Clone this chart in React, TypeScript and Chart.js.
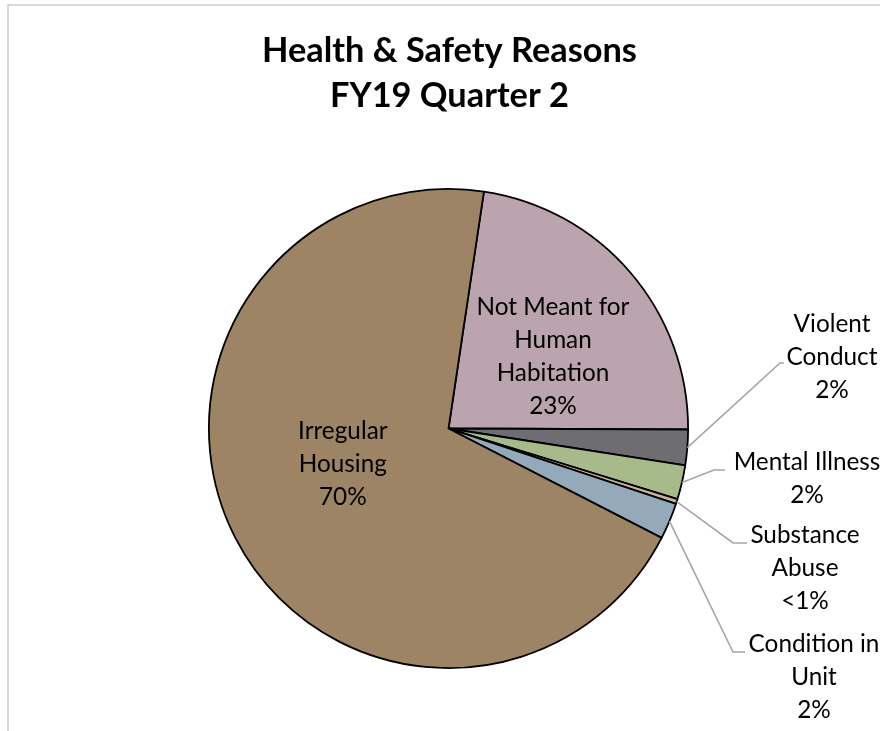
import React, { useEffect, useRef } from 'react';
import { Chart, registerables } from 'chart.js';

Chart.register(...registerables);

// ---- data ----
const titleLines = ['Health & Safety Reasons', 'FY19 Quarter 2'];
const categories = [
  'Not Meant for Human Habitation',
  'Violent Conduct',
  'Mental Illness',
  'Substance Abuse',
  'Condition in Unit',
  'Irregular Housing',
];
const categoryLabelLines = [
  ['Not Meant for', 'Human', 'Habitation'],
  ['Violent', 'Conduct'],
  ['Mental Illness'],
  ['Substance', 'Abuse'],
  ['Condition in', 'Unit'],
  ['Irregular', 'Housing'],
];
const shares = [22.7, 2.4, 2.3, 0.33, 2.45, 69.8];
const sliceColors = ['#BBA4AD', '#6E6D72', '#A6BA8A', '#C8B29A', '#94AABB', '#9D8465'];
const startAngle = 8.5;

// ---- layout (relative to the pie centre) ----
const FONT = 'Lato, "Open Sans", sans-serif';
const LINE_GAP = 33;
const labelLayout: any[] = [
  { dx: 104.5, dy: -113.5 },
  { dx: 383.5, dy: -96.5, elbow: [331.5, -65.5], end: [335.5, -65.5] },
  { dx: 358.5, dy: 41.5, elbow: [265.5, 41.5], end: [276.5, 41.5] },
  { dx: 356.5, dy: 114.5, elbow: [284.5, 114.5], end: [298.5, 114.5] },
  { dx: 365.5, dy: 223.5, elbow: [284.5, 223.5], end: [296.5, 223.5] },
  { dx: -105.7, dy: 10.5 },
];

function pctText(v: number, total: number) {
  const p = (v / total) * 100;
  return p < 1 ? '<1%' : Math.round(p) + '%';
}

function fitFontSize(ctx: CanvasRenderingContext2D, text: string, weight: string, target: number) {
  ctx.font = `${weight} 100px ${FONT}`;
  return (100 * target) / ctx.measureText(text).width;
}

const excelPlugin = {
  id: 'excelLook',
  beforeDraw(chart: any) {
    const ctx = chart.ctx as CanvasRenderingContext2D;
    ctx.save();
    ctx.fillStyle = '#FFFFFF';
    ctx.fillRect(0, 0, chart.width, chart.height);
    ctx.strokeStyle = '#D9D9D9';
    ctx.lineWidth = 2;
    ctx.strokeRect(8, 5, chart.width + 20, chart.height + 20);
    ctx.restore();
  },
  afterDraw(chart: any) {
    const ctx = chart.ctx as CanvasRenderingContext2D;
    const arcs = chart.getDatasetMeta(0).data;
    if (!arcs.length) return;
    const cx = arcs[0].x;
    const cy = arcs[0].y;
    const r = arcs[0].outerRadius;
    ctx.save();
    ctx.fillStyle = '#000000';
    ctx.textAlign = 'center';
    ctx.textBaseline = 'alphabetic';

    // title
    const tSize = fitFontSize(ctx, titleLines[0], 'bold', 375);
    ctx.font = `bold ${tSize}px ${FONT}`;
    titleLines.forEach((t, j) => ctx.fillText(t, cx + 1, 61.7 + j * 45.3));

    // labels
    const total = shares.reduce((a, b) => a + b, 0);
    const lSize = fitFontSize(ctx, 'Not Meant for', 'normal', 153);
    ctx.font = `normal ${lSize}px ${FONT}`;
    ctx.strokeStyle = '#A6A6A6';
    ctx.lineWidth = 1.6;
    arcs.forEach((arc: any, i: number) => {
      const L = labelLayout[i];
      const lines = [...categoryLabelLines[i], pctText(shares[i], total)];
      if (L.elbow) {
        const mid = (arc.startAngle + arc.endAngle) / 2;
        const sx = cx + Math.cos(mid) * r;
        const sy = cy + Math.sin(mid) * r;
        ctx.beginPath();
        ctx.moveTo(sx, sy);
        ctx.lineTo(cx + L.elbow[0], cy + L.elbow[1]);
        ctx.lineTo(cx + L.end[0], cy + L.end[1]);
        ctx.stroke();
      }
      lines.forEach((t, j) => ctx.fillText(t, cx + L.dx, cy + L.dy + j * LINE_GAP));
    });
    ctx.restore();
  },
};

export default function App() {
  const ref = useRef<HTMLCanvasElement | null>(null);
  useEffect(() => {
    if (!ref.current) return;
    const chart = new Chart(ref.current, {
      type: 'pie',
      data: {
        labels: categories,
        datasets: [
          {
            data: shares,
            backgroundColor: sliceColors,
            borderColor: '#000000',
            borderWidth: 1.8,
            hoverOffset: 0,
            offset: 0,
          } as any,
        ],
      },
      options: {
        responsive: false,
        animation: false,
        events: [],
        rotation: startAngle,
        layout: { padding: { left: 208, right: 191, top: 188, bottom: 62 } },
        plugins: {
          legend: { display: false },
          tooltip: { enabled: false },
          title: { display: false },
        },
      } as any,
      plugins: [excelPlugin],
    });
    return () => chart.destroy();
  }, []);
  return (
    <div style={{ position: 'absolute', left: 0, top: 0, width: 880, height: 731 }}>
      <canvas ref={ref} width={880} height={731} style={{ display: 'block' }} />
    </div>
  );
}
